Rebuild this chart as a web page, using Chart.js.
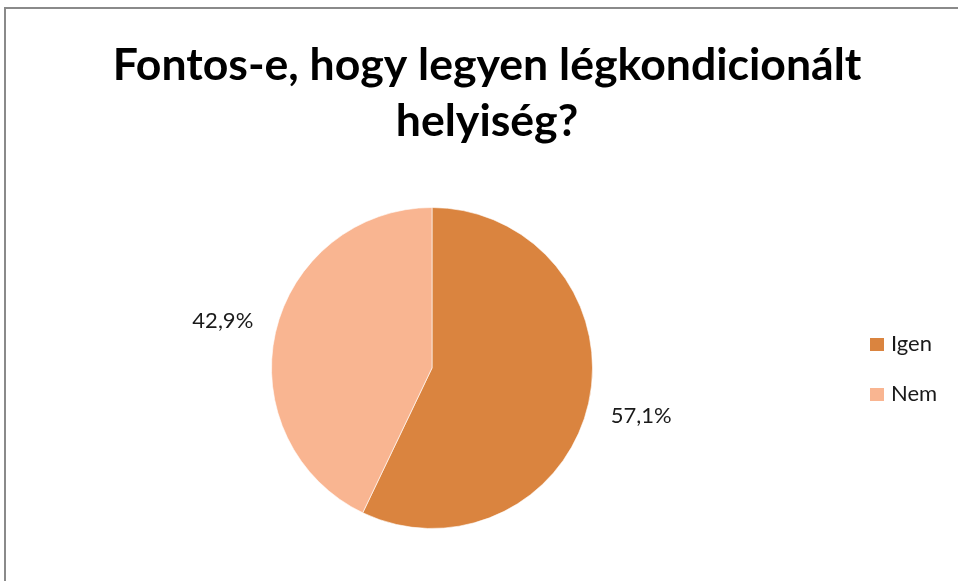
<!DOCTYPE html>
<html>
<head>
<meta charset="utf-8">
<script src="https://cdn.jsdelivr.net/npm/chart.js@4.4.0/dist/chart.umd.min.js"></script>
<style>
  html, body { margin: 0; padding: 0; background: #fff; }
  #wrap { position: relative; width: 958px; height: 581px; }
</style>
</head>
<body>
<div id="wrap"><canvas id="pie" width="958" height="581"></canvas></div>
<script>
const titleLines = ["Fontos-e, hogy legyen légkondicionált", "helyiség?"];
const labels = ["Igen", "Nem"];
const values = [57.1, 42.9];
const colors = ["#DA843F", "#F9B591"];

const fontFamily = "Lato, 'Noto Sans', sans-serif";

// frame line on left and top (chart box is cropped at right/bottom)
const framePlugin = {
    id: "frame",
    beforeDraw(chart) {
        const ctx = chart.ctx;
        ctx.save();
        ctx.strokeStyle = "#8a8a8a";
        ctx.lineWidth = 2;
        ctx.beginPath();
        ctx.moveTo(5, 581);
        ctx.lineTo(5, 8);
        ctx.lineTo(958, 8);
        ctx.stroke();
        ctx.restore();
    },
};

// two-line title, centred over the whole chart box
const titlePlugin = {
    id: "bigTitle",
    afterDraw(chart) {
        const ctx = chart.ctx;
        ctx.save();
        ctx.font = "bold 40px " + fontFamily;
        // scale so the first line spans about as wide as in the original
        const size = 40 * 749 / ctx.measureText(titleLines[0]).width;
        ctx.font = "bold " + size + "px " + fontFamily;
        ctx.fillStyle = "#000";
        ctx.textAlign = "center";
        ctx.textBaseline = "alphabetic";
        ctx.fillText(titleLines[0], 487, 80);
        ctx.fillText(titleLines[1], 487, 136);
        ctx.restore();
    },
};

// percentage labels outside each slice
const outsideLabels = {
    id: "outsideLabels",
    afterDatasetsDraw(chart) {
        const ctx = chart.ctx;
        const meta = chart.getDatasetMeta(0);
        ctx.save();
        ctx.font = "22px " + fontFamily;
        ctx.fillStyle = "#1a1a1a";
        ctx.textAlign = "center";
        ctx.textBaseline = "middle";
        meta.data.forEach((arc, i) => {
            const mid = (arc.startAngle + arc.endAngle) / 2;
            const r = arc.outerRadius + 54;
            const x = arc.x + Math.cos(mid) * r;
            const y = arc.y + Math.sin(mid) * r;
            ctx.fillText(values[i].toFixed(1).replace(".", ",") + "%", x, y);
        });
        ctx.restore();
    },
};

// legend on the right
const sideLegend = {
    id: "sideLegend",
    afterDraw(chart) {
        const ctx = chart.ctx;
        ctx.save();
        ctx.font = "22px " + fontFamily;
        ctx.textBaseline = "middle";
        labels.forEach((l, i) => {
            const y = 344 + i * 50;
            ctx.fillStyle = colors[i];
            ctx.fillRect(870, y - 6, 14, 13);
            ctx.fillStyle = "#1a1a1a";
            ctx.fillText(l, 891, y);
        });
        ctx.restore();
    },
};

new Chart(document.getElementById("pie"), {
    type: "pie",
    data: {
        labels: labels,
        datasets: [
            {
                data: values,
                backgroundColor: colors,
                borderColor: "rgba(255,255,255,0.6)",
                borderWidth: 1,
            },
        ],
    },
    options: {
        responsive: false,
        animation: false,
        layout: {
            padding: { left: 271, right: 365, top: 207, bottom: 52 },
        },
        plugins: {
            legend: { display: false },
            tooltip: { enabled: false },
            title: { display: false },
        },
    },
    plugins: [framePlugin, titlePlugin, outsideLabels, sideLegend],
});
</script>
</body>
</html>
